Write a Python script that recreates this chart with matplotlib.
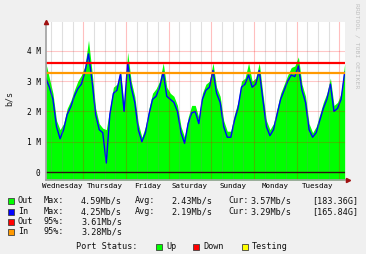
import numpy as np
import matplotlib
matplotlib.use("Agg")
import matplotlib.pyplot as plt
from matplotlib.patches import Rectangle

# ---- data (hours since Wednesday 00:00, values in Mb/s) ----
hours = list(range(3, 172, 2))
out_mbps = [3.6, 3.1, 2.6, 1.7, 1.4, 1.6, 2.1, 2.35, 2.7, 3.0, 3.2,
            3.5, 4.35, 3.3, 2.1, 1.6, 1.45, 1.4, 2.1, 2.8, 2.9, 3.35,
            2.2, 3.95, 3.0, 2.5, 1.6, 1.15, 1.5, 2.1, 2.6, 2.75, 3.0,
            3.6, 2.8, 2.6, 2.5, 2.2, 1.5, 1.15, 1.8, 2.2, 2.2, 1.8,
            2.6, 2.9, 3.0, 3.6, 2.8, 2.5, 1.7, 1.35, 1.35, 1.9, 2.3,
            3.0, 3.1, 3.6, 3.0, 3.1, 3.6, 2.6, 1.7, 1.4, 1.6, 2.1,
            2.6, 2.9, 3.2, 3.45, 3.5, 3.8, 2.9, 2.5, 1.6, 1.3, 1.5,
            1.9, 2.3, 2.6, 3.1, 2.2, 2.3, 2.6, 3.57]
in_mbps = [3.1, 2.8, 2.4, 1.5, 1.1, 1.4, 1.9, 2.15, 2.5, 2.75, 2.9,
           3.3, 3.9, 3.0, 1.9, 1.4, 1.3, 0.3, 1.9, 2.6, 2.7, 3.25,
           2.0, 3.6, 2.8, 2.3, 1.4, 1.0, 1.3, 1.9, 2.4, 2.5, 2.8,
           3.3, 2.5, 2.4, 2.3, 2.0, 1.3, 0.95, 1.6, 1.95, 2.0, 1.6,
           2.4, 2.7, 2.8, 3.35, 2.6, 2.3, 1.5, 1.15, 1.15, 1.7, 2.1,
           2.8, 2.9, 3.2, 2.8, 2.9, 3.35, 2.4, 1.5, 1.2, 1.4, 1.9,
           2.4, 2.7, 3.0, 3.2, 3.15, 3.5, 2.7, 2.3, 1.4, 1.15, 1.3,
           1.7, 2.1, 2.4, 2.9, 2.0, 2.1, 2.4, 3.29]
out_95 = 3.61
in_95 = 3.28
days = ["Wednesday", "Thursday", "Friday", "Saturday", "Sunday", "Monday", "Tuesday"]
ytick_vals = [0, 1, 2, 3, 4]
ytick_labels = ["0", "1 M", "2 M", "3 M", "4 M"]
legend_rows = [
    ("#00ff00", "Out", "Max:", "4.59Mb/s", "Avg:", "2.43Mb/s", "Cur:", "3.57Mb/s", "[183.36G]"),
    ("#0000ff", "In", "Max:", "4.25Mb/s", "Avg:", "2.19Mb/s", "Cur:", "3.29Mb/s", "[165.84G]"),
    ("#ff0000", "Out", "95%:", "3.61Mb/s", "", "", "", "", ""),
    ("#ff9900", "In", "95%:", "3.28Mb/s", "", "", "", "", ""),
]
status_items = [("#00ff00", "Up"), ("#ff0000", "Down"), ("#ffff00", "Testing")]

W, H = 366, 254
MONO = "DejaVu Sans Mono"
fig = plt.figure(figsize=(W / 100, H / 100), dpi=100)
fig.patch.set_facecolor("#f0f0f0")

def fx(px):
    return px / W

def fy(py):
    return 1 - py / H

ax = fig.add_axes([fx(46), fy(180), fx(299), 158 / H])
ax.set_facecolor("white")
x0, x1 = 3.1, 171.2
y0, y1 = -0.26, 4.95
ax.set_xlim(x0, x1)
ax.set_ylim(y0, y1)

h = np.array(hours, dtype=float)
ax.fill_between(h, y0, out_mbps, color="#00ff00", lw=0, zorder=2)
ax.plot(h, in_mbps, color="#0000ff", lw=1.0, zorder=3)

# grid on top
for hh in range(6, 172, 6):
    if hh % 24 == 0:
        ax.axvline(hh, color="#ff0000", alpha=0.25, lw=0.8, zorder=4)
    else:
        ax.axvline(hh, color="#808080", alpha=0.25, lw=0.8, zorder=4)
for v in ytick_vals[1:]:
    ax.axhline(v, color="#ff0000", alpha=0.22, lw=0.8, zorder=4)

ax.axhline(out_95, color="#ff0000", lw=1.6, zorder=5)
ax.axhline(in_95, color="#ff9900", lw=1.6, zorder=5)
ax.axhline(0, color="#301010", lw=1.0, zorder=5)

for s in ["top", "right"]:
    ax.spines[s].set_visible(False)
ax.spines["left"].set_color("#a0a0a0")
ax.spines["bottom"].set_color("#a0a0a0")
ax.spines["left"].set_linewidth(1.2)
ax.spines["bottom"].set_linewidth(1.2)
ax.spines["left"].set_zorder(6)
ax.spines["bottom"].set_zorder(6)

ax.plot([0], [1.0], marker="^", color="#a01010", ms=3, transform=ax.transAxes, clip_on=False, zorder=7)
ax.plot([1.01], [0.0], marker=">", color="#a01010", ms=3, transform=ax.transAxes, clip_on=False, zorder=7)

ax.set_yticks(ytick_vals)
ax.set_yticklabels(ytick_labels, fontfamily=MONO, fontsize=5.6)
ax.set_xticks([12 + 24 * i for i in range(len(days))])
ax.set_xticklabels(days, fontfamily=MONO, fontsize=5.4)
ax.tick_params(axis="both", length=0, colors="#000000")
ax.tick_params(axis="y", pad=4)
ax.tick_params(axis="x", pad=2.5)

fig.text(fx(9), fy(98), "b/s", rotation=90, fontfamily=MONO, fontsize=6,
         ha="center", va="center", color="#202020")
fig.text(fx(357), fy(46), "RRDTOOL / TOBI OETIKER", rotation=270, fontfamily=MONO,
         fontsize=4.6, ha="center", va="center", color="#c0c0c0")

# legend
row_y = [200.7, 211.7, 222, 232]
col_x = [18, 44, 81, 135, 171, 228, 250, 312]
for ry, row in zip(row_y, legend_rows):
    fig.patches.append(Rectangle((fx(8), fy(ry + 3)), fx(6), 6 / H, transform=fig.transFigure,
                                 facecolor=row[0], edgecolor="#404040", lw=0.6))
    for cx, txt in zip(col_x, row[1:]):
        if txt:
            fig.text(fx(cx), fy(ry), txt, fontfamily=MONO, fontsize=6.1,
                     ha="left", va="center", color="#101010")

sy = 246.7
fig.text(fx(76), fy(sy), "Port Status:", fontfamily=MONO, fontsize=6.1,
         ha="left", va="center", color="#101010")
for sqx, (col, lab) in zip([156, 193, 242], status_items):
    fig.patches.append(Rectangle((fx(sqx), fy(sy + 3)), fx(6), 6 / H, transform=fig.transFigure,
                                 facecolor=col, edgecolor="#404040", lw=0.6))
    fig.text(fx(sqx + 10), fy(sy), lab, fontfamily=MONO, fontsize=6.1,
             ha="left", va="center", color="#101010")

fig.savefig("out.png", dpi=100, facecolor=fig.get_facecolor())
